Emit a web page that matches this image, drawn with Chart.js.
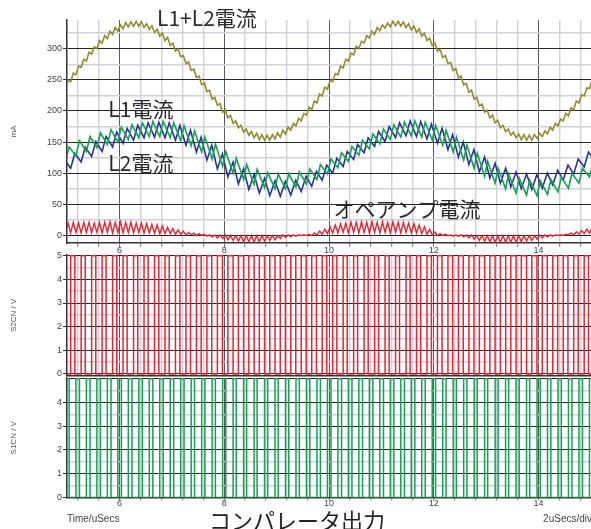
<!DOCTYPE html>
<html>
<head>
<meta charset="utf-8">
<script src="https://cdn.jsdelivr.net/npm/chart.js@4.4.1/dist/chart.umd.min.js"></script>
<style>
  html, body { margin: 0; padding: 0; background: #fff; }
  #wrap { position: relative; width: 591px; height: 529px; overflow: hidden; }
  #wrap canvas { position: absolute; left: 0; }
  #caption {
    position: absolute; left: 297px; top: 519px; transform: translate(-50%, -50%);
    font: 22px "Noto Sans CJK JP", sans-serif; color: #222; white-space: nowrap;
  }
</style>
</head>
<body>
<div id="wrap">
  <canvas id="panelCurrent" width="591" height="258" style="top:0"></canvas>
  <canvas id="panelS2" width="591" height="137" style="top:245px"></canvas>
  <canvas id="panelS1" width="591" height="159" style="top:370px"></canvas>
  <div id="caption">コンパレータ出力</div>
</div>
<script>
// ---- axes ----
const timeLabels = [6, 8, 10, 12, 14];
const timeGrid = [5.2, 5.6, 6, 6.4, 6.8, 7.2, 7.6, 8, 8.4, 8.8, 9.2, 9.6, 10, 10.4, 10.8,
                  11.2, 11.6, 12, 12.4, 12.8, 13.2, 13.6, 14, 14.4, 14.8];
const currentTicks = [0, 50, 100, 150, 200, 250, 300];
const currentMinor = [25, 75, 125, 175, 225, 275, 325];
const voltTicks = [0, 1, 2, 3, 4, 5];
const voltMinor = [0.5, 1.5, 2.5, 3.5, 4.5];
const s2VoltLabels = [0, 1, 2, 3, 4, 5];
const s1VoltLabels = [0, 1, 2, 3, 4];

// ---- comparator outputs: rising edges (uSecs) and high times (uSecs) ----
const pulseHigh = 5;
const s1Rise = [4.97, 5.17, 5.37, 5.57, 5.77, 5.97, 6.17, 6.37, 6.57, 6.77, 6.97, 7.17, 7.37,
                7.57, 7.77, 7.97, 8.17, 8.37, 8.57, 8.77, 8.97, 9.17, 9.37, 9.57, 9.77, 9.97,
                10.17, 10.37, 10.57, 10.77, 10.97, 11.17, 11.37, 11.57, 11.77, 11.97, 12.17,
                12.37, 12.57, 12.77, 12.97, 13.17, 13.37, 13.57, 13.77, 13.97, 14.17, 14.37,
                14.57, 14.77, 14.97, 15.17];
const s1Width = [0.07, 0.068, 0.07, 0.068, 0.07, 0.068, 0.07, 0.068, 0.068, 0.066, 0.066, 0.064,
                 0.064, 0.062, 0.062, 0.06, 0.06, 0.058, 0.058, 0.06, 0.06, 0.062, 0.064, 0.064,
                 0.066, 0.068, 0.07, 0.068, 0.07, 0.068, 0.07, 0.068, 0.07, 0.068, 0.066, 0.064,
                 0.064, 0.062, 0.062, 0.06, 0.058, 0.058, 0.058, 0.06, 0.06, 0.062, 0.064, 0.064,
                 0.066, 0.068, 0.07, 0.068];
const s2Rise = [4.87, 5.07, 5.27, 5.47, 5.67, 5.87, 6.07, 6.27, 6.47, 6.67, 6.87, 7.07, 7.27,
                7.47, 7.67, 7.87, 8.07, 8.27, 8.47, 8.67, 8.87, 9.07, 9.27, 9.47, 9.67, 9.87,
                10.07, 10.27, 10.47, 10.67, 10.87, 11.07, 11.27, 11.47, 11.67, 11.87, 12.07,
                12.27, 12.47, 12.67, 12.87, 13.07, 13.27, 13.47, 13.67, 13.87, 14.07, 14.27,
                14.47, 14.67, 14.87, 15.07];
const s2Width = [0.08, 0.08, 0.078, 0.08, 0.076, 0.08, 0.078, 0.08, 0.078, 0.082, 0.08, 0.084,
                 0.086, 0.09, 0.092, 0.096, 0.1, 0.1, 0.102, 0.1, 0.1, 0.098, 0.096, 0.094,
                 0.09, 0.086, 0.08, 0.078, 0.076, 0.078, 0.076, 0.078, 0.076, 0.078, 0.08, 0.084,
                 0.088, 0.09, 0.092, 0.096, 0.1, 0.1, 0.102, 0.1, 0.1, 0.098, 0.096, 0.094,
                 0.09, 0.086, 0.082, 0.08];

// ---- inductor currents (mA): at each rising edge (valley) and falling edge (peak) ----
const l1Valley = [118, 128, 135, 141, 146, 150, 154, 157, 159, 159, 157, 152, 144, 134, 123, 111,
                  100, 90, 82, 77, 75, 75, 78, 83, 90, 99, 109, 119, 129, 139, 147, 154, 158, 160,
                  158, 153, 145, 134, 121, 108, 95, 84, 75, 68, 65, 64, 66, 70, 76, 84, 94, 104];
const l1Peak = [142, 152, 159, 165, 170, 174, 178, 181, 183, 183, 181, 176, 168, 158, 147, 135,
                124, 114, 106, 101, 99, 99, 102, 107, 114, 123, 133, 143, 153, 163, 171, 178, 182,
                184, 182, 177, 169, 158, 145, 132, 119, 108, 99, 92, 89, 88, 90, 94, 100, 108, 118, 128];
const l2Valley = [98, 108, 118, 127, 135, 142, 148, 153, 157, 158, 157, 153, 145, 134, 121, 107,
                  94, 83, 74, 68, 64, 63, 65, 71, 79, 89, 100, 111, 122, 133, 143, 151, 157, 160,
                  159, 155, 148, 138, 126, 114, 102, 92, 84, 78, 75, 74, 76, 81, 89, 99, 110, 120];
const l2Peak = [122, 132, 142, 151, 159, 166, 172, 177, 181, 182, 181, 177, 169, 158, 145, 131,
                118, 107, 98, 92, 88, 87, 89, 95, 103, 113, 124, 135, 146, 157, 167, 175, 181, 184,
                183, 179, 172, 162, 150, 138, 126, 116, 108, 102, 99, 98, 100, 105, 113, 123, 134, 144];

// ---- L1+L2 and op-amp currents (mA): at every switching edge (low) and halfway to the next (high) ----
const sumLow = [235, 247, 258, 270, 280, 291, 300, 309, 316, 323, 328, 332, 335, 336, 336, 334, 331,
                326, 320, 313, 305, 296, 287, 276, 265, 254, 242, 231, 219, 209, 198, 189, 180, 173,
                166, 161, 157, 154, 153, 153, 155, 158, 163, 169, 176, 184, 193, 202, 213, 224,
                235, 247, 258, 269, 280, 290, 300, 309, 317, 323, 329, 333, 335, 337, 336, 334, 330,
                326, 320, 313, 305, 296, 286, 276, 265, 253, 242, 230, 219, 208, 198, 189, 181, 173,
                167, 161, 157, 154, 153, 153, 156, 159, 163, 169, 176, 184, 192, 202, 213, 224,
                236, 247];
const sumHigh = [249, 261, 272, 283, 294, 303, 313, 321, 328, 334, 338, 342, 343, 344, 343, 340, 337,
                 331, 325, 318, 309, 300, 289, 279, 267, 256, 245, 233, 222, 212, 202, 193, 184, 177,
                 171, 167, 164, 162, 161, 162, 165, 169, 174, 180, 188, 196, 206, 216, 227, 238,
                 249, 260, 272, 283, 293, 304, 312, 321, 328, 334, 338, 341, 344, 344, 343, 340, 336,
                 332, 325, 317, 309, 299, 289, 278, 268, 256, 244, 233, 222, 211, 201, 193, 185, 177,
                 171, 166, 163, 162, 161, 162, 164, 168, 174, 180, 187, 196, 205, 216, 226, 237,
                 249, 260];
const opLow = [5, 4, 5, 4, 5, 4, 5, 4, 5, 4, 5, 4, 5, 4, 5, 4, 4, 4, 3, 3,
               3, 2, 2, 1, 1, 0, 0, -1, -2, -4, -5, -7, -8, -9, -10, -10, -10, -10, -9, -8,
               -7, -5, -3, -2, -1, 0, 0, 0, 1, 2, 3, 4, 4, 5, 4, 5, 4, 5, 4, 5,
               4, 5, 4, 5, 4, 5, 4, 4, 3, 2, 1, 0, 0, 0, -1, -1, -2, -4, -6, -8,
               -9, -10, -11, -11, -11, -11, -11, -10, -9, -8, -6, -4, -2, -1, 0, 0, 1, 1, 2, 3,
               4, 4];
const opHigh = [20, 21, 20, 21, 21, 20, 21, 21, 22, 21, 22, 21, 21, 20, 20, 19, 18, 17, 15, 13,
                11, 9, 7, 5, 4, 3, 2, 1, 1, 1, 1, 0, 0, 0, 0, 0, 0, 0, 0, 0,
                0, 1, 1, 1, 1, 1, 2, 4, 7, 10, 14, 17, 19, 20, 21, 21, 22, 21, 22, 21,
                22, 21, 22, 21, 21, 20, 19, 17, 14, 10, 6, 3, 2, 1, 1, 1, 1, 1, 0, 0,
                0, 0, 0, 0, 0, 0, 0, 0, 0, 0, 1, 1, 1, 1, 1, 2, 4, 6, 8, 10,
                12, 14];

// ---- trace names written on the current panel (uSecs, mA) ----
const currentNotes = [
  { text: 'L1+L2電流', t: 7.67, mA: 349 },
  { text: 'L1電流', t: 6.41, mA: 203 },
  { text: 'L2電流', t: 6.41, mA: 117 },
  { text: 'オペアンプ電流', t: 11.49, mA: 43 }
];

// ---- styling ----
const FONT_UI = '"Liberation Sans", Arial, sans-serif';
const FONT_JP = '"Noto Sans CJK JP", sans-serif';
const GRID_MINOR = '#cfd0da';
const GRID_MAJOR_V = '#5a5a5a';
const GRID_MAJOR_H = '#262626';
const OLIVE = '#8e8e30';
const GREEN = '#15a052';
const BLUE = '#2a3496';
const RED = '#ec2230';

const near = (list, v) => list.some(m => Math.abs(m - v) < 1e-6);

// ---- series built from the arrays above ----
function rippleSeries(rise, width, low, high) {
  const pts = [];
  rise.forEach((t, i) => {
    pts.push({ x: t, y: low[i] });
    pts.push({ x: t + width[i], y: high[i] });
  });
  return pts;
}
function pulseSeries(rise, width) {
  const pts = [];
  rise.forEach((t, i) => {
    pts.push({ x: t, y: 0 }, { x: t, y: pulseHigh },
             { x: t + width[i], y: pulseHigh }, { x: t + width[i], y: 0 });
  });
  return pts;
}
const edges = [...s1Rise, ...s2Rise].filter(t => t > 4.9 && t < 15.1).sort((a, b) => a - b);
function edgeSeries(low, high) {
  const pts = [];
  edges.forEach((t, j) => {
    const next = j + 1 < edges.length ? edges[j + 1] : t + (t - edges[j - 1]);
    pts.push({ x: t, y: low[j] });
    pts.push({ x: (t + next) / 2, y: high[j] });
  });
  return pts;
}

// ---- axes ----
function timeAxis({ height, tickLength, labels, labelPad, border, title }) {
  return {
    type: 'linear', min: 5, max: 15,
    afterBuildTicks: ax => { ax.ticks = timeGrid.map(v => ({ value: v })); },
    afterFit: ax => { ax.height = height; },
    grid: {
      color: c => near(timeLabels, c.tick.value) ? GRID_MAJOR_V : GRID_MINOR,
      lineWidth: c => near(timeLabels, c.tick.value) ? 1 : 1.4,
      drawTicks: tickLength > 0, tickLength: tickLength, tickColor: '#777', tickWidth: 1
    },
    border: { display: border, color: '#333', width: 1.5 },
    ticks: {
      display: labels, autoSkip: false, maxRotation: 0, padding: labelPad,
      color: '#444', font: { family: FONT_UI, size: 9 },
      callback: v => near(timeLabels, v) ? String(v) : ''
    },
    title: title ? {
      display: true, text: title, align: 'start', color: '#444',
      font: { family: FONT_UI, size: 10 }, padding: { top: 0, bottom: 4 }
    } : { display: false }
  };
}
function valueAxis({ min, max, major, minor, labelled, title }) {
  const all = [...major, ...minor].sort((a, b) => a - b);
  return {
    type: 'linear', position: 'left', min, max,
    afterBuildTicks: ax => { ax.ticks = all.map(v => ({ value: v })); },
    afterFit: ax => { ax.width = 67; },
    grid: {
      color: c => near(major, c.tick.value) ? GRID_MAJOR_H : GRID_MINOR,
      lineWidth: c => near(major, c.tick.value) ? 1 : 1.4,
      tickLength: 4,
      tickColor: c => near(labelled, c.tick.value) ? '#333' : 'rgba(0,0,0,0)'
    },
    border: { color: '#333', width: 1.5 },
    ticks: {
      autoSkip: false, padding: 1, color: '#444', font: { family: FONT_UI, size: 9 },
      callback: v => near(labelled, v) ? String(v) : ''
    },
    title: {
      display: true, text: title, color: '#555',
      font: { family: FONT_UI, size: 8 }, padding: { top: 9, bottom: 0 }
    }
  };
}

const baseOptions = {
  responsive: false, animation: false, devicePixelRatio: 1, events: [],
  elements: { point: { radius: 0 }, line: { tension: 0, fill: false } },
  plugins: { legend: { display: false }, tooltip: { enabled: false } }
};

const noteLabels = {
  id: 'noteLabels',
  afterDatasetsDraw(chart) {
    const { ctx, scales: { x, y } } = chart;
    ctx.save();
    ctx.font = '21px ' + FONT_JP;
    ctx.fillStyle = '#2a2a2a';
    ctx.textAlign = 'center';
    ctx.textBaseline = 'middle';
    currentNotes.forEach(n => ctx.fillText(n.text, x.getPixelForValue(n.t), y.getPixelForValue(n.mA)));
    ctx.restore();
  }
};

const divLabel = {
  id: 'divLabel',
  afterDraw(chart) {
    const { ctx } = chart;
    ctx.save();
    ctx.font = '10px ' + FONT_UI;
    ctx.fillStyle = '#444';
    ctx.textAlign = 'right';
    ctx.textBaseline = 'middle';
    ctx.fillText('2uSecs/div', chart.width + 1, 149);
    ctx.restore();
  }
};

// ---- current panel ----
new Chart(document.getElementById('panelCurrent'), {
  type: 'line',
  data: {
    datasets: [
      { label: 'L1+L2電流', data: edgeSeries(sumLow, sumHigh), borderColor: OLIVE, borderWidth: 1.6 },
      { label: 'L1電流', data: rippleSeries(s1Rise, s1Width, l1Valley, l1Peak), borderColor: GREEN, borderWidth: 1.6 },
      { label: 'L2電流', data: rippleSeries(s2Rise, s2Width, l2Valley, l2Peak), borderColor: BLUE, borderWidth: 1.6 },
      { label: 'オペアンプ電流', data: edgeSeries(opLow, opHigh), borderColor: RED, borderWidth: 1.4 }
    ]
  },
  options: {
    ...baseOptions,
    layout: { padding: { top: 20, right: 0, bottom: 0, left: 0 } },
    scales: {
      x: timeAxis({ height: 15, tickLength: 4, labels: true, labelPad: -2, border: true }),
      y: valueAxis({ min: -12, max: 346, major: currentTicks, minor: currentMinor,
                     labelled: currentTicks, title: 'mA' })
    }
  },
  plugins: [noteLabels]
});

// ---- S2 comparator output ----
new Chart(document.getElementById('panelS2'), {
  type: 'line',
  data: { datasets: [{ label: 'S2CN', data: pulseSeries(s2Rise, s2Width), borderColor: RED, borderWidth: 1.5 }] },
  options: {
    ...baseOptions,
    layout: { padding: { top: 10, right: 0, bottom: 2, left: 0 } },
    scales: {
      x: timeAxis({ height: 4, tickLength: 0, labels: false, labelPad: 0, border: true }),
      y: valueAxis({ min: -0.07, max: 5.03, major: voltTicks, minor: voltMinor,
                     labelled: s2VoltLabels, title: 'S2CN / V' })
    }
  }
});

// ---- S1 comparator output ----
new Chart(document.getElementById('panelS1'), {
  type: 'line',
  data: { datasets: [{ label: 'S1CN', data: pulseSeries(s1Rise, s1Width), borderColor: GREEN, borderWidth: 1.5 }] },
  options: {
    ...baseOptions,
    layout: { padding: { top: 8, right: 0, bottom: 0, left: 0 } },
    scales: {
      x: timeAxis({ height: 31.5, tickLength: 3, labels: true, labelPad: -2, border: true, title: 'Time/uSecs' }),
      y: valueAxis({ min: 0, max: 5.03, major: voltTicks, minor: voltMinor,
                     labelled: s1VoltLabels, title: 'S1CN / V' })
    }
  },
  plugins: [divLabel]
});
</script>
</body>
</html>
